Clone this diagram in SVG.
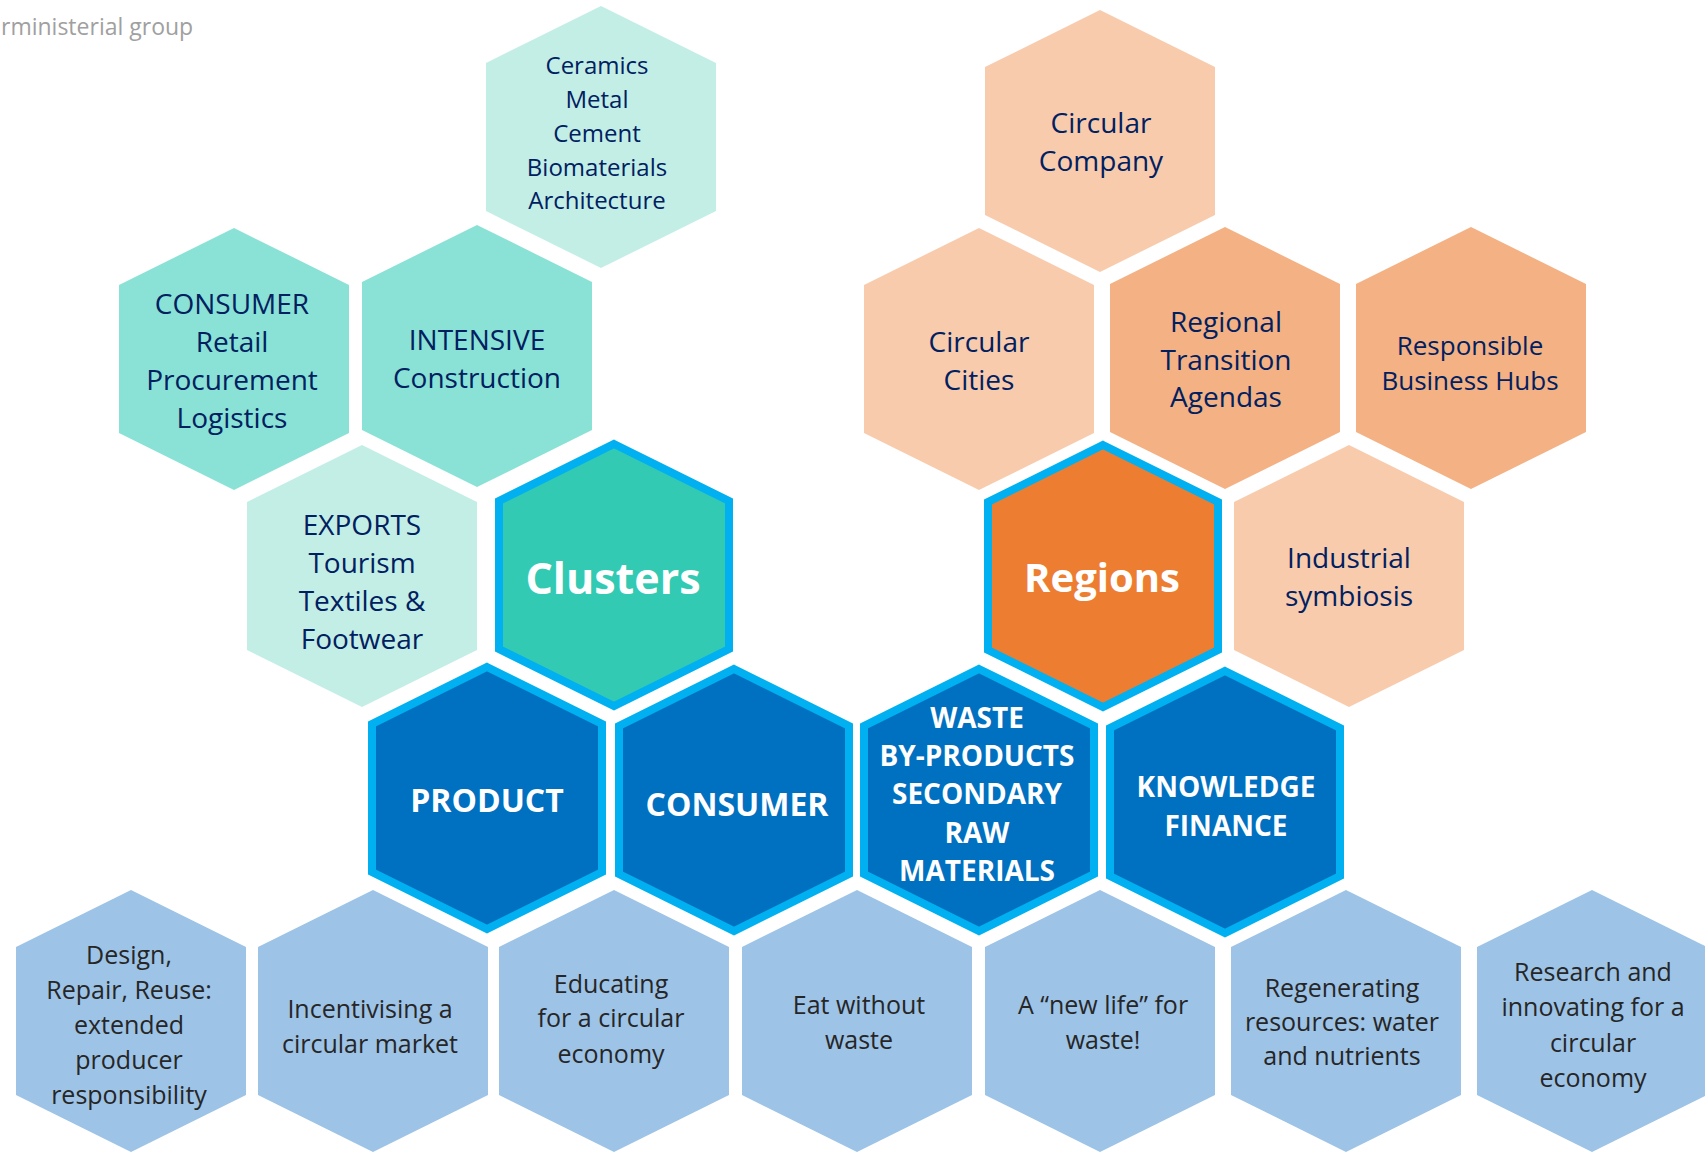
<svg xmlns="http://www.w3.org/2000/svg" width="1705" height="1152" viewBox="0 0 1705 1152">
<defs>
<path id="hex" d="M0,-131 L115,-74 L115,74 L0,131 L-115,74 L-115,-74 Z"/>
<style>
.mintL{fill:#C3EEE6}
.mint{fill:#89E2D5}
.clu{fill:#33CAB3;stroke:#00B0F0;stroke-width:8}
.peachL{fill:#F8CBAD}
.peachM{fill:#F4B183}
.reg{fill:#ED7D31;stroke:#00B0F0;stroke-width:8}
.blue{fill:#0070C0;stroke:#00B0F0;stroke-width:8}
.sky{fill:#9DC3E6}
text{font-family:"Open Sans","Noto Sans",sans-serif;text-anchor:middle}
.nv{fill:#002060}
.dk{fill:#262626;font-size:25px}
.wb{fill:#FFFFFF;font-weight:700}
.s24{font-size:24px}
.s26{font-size:26px}
.s28{font-size:28px}
.s32{font-size:32px}
.s40{font-size:40px}
.s43{font-size:43px}
.ttl{fill:#A0A0A0;font-size:23px;text-anchor:start}
</style>
</defs>
<rect width="1705" height="1152" fill="#FFFFFF"/>
<text class="ttl" x="1" y="35">rministerial group</text>

<g id="ceramics"><use href="#hex" x="601" y="137" class="mintL"/>
<text class="nv s24"><tspan x="597" y="74">Ceramics</tspan><tspan x="597" y="108">Metal</tspan><tspan x="597" y="142">Cement</tspan><tspan x="597" y="176">Biomaterials</tspan><tspan x="597" y="209">Architecture</tspan></text></g>

<g id="consumer-retail"><use href="#hex" x="234" y="359" class="mint"/>
<text class="nv s28"><tspan x="232" y="314">CONSUMER</tspan><tspan x="232" y="352">Retail</tspan><tspan x="232" y="390">Procurement</tspan><tspan x="232" y="428">Logistics</tspan></text></g>

<g id="intensive"><use href="#hex" x="477" y="356" class="mint"/>
<text class="nv s28"><tspan x="477" y="350">INTENSIVE</tspan><tspan x="477" y="388">Construction</tspan></text></g>

<g id="exports"><use href="#hex" x="362" y="576" class="mintL"/>
<text class="nv s28"><tspan x="362" y="535">EXPORTS</tspan><tspan x="362" y="573">Tourism</tspan><tspan x="362" y="611">Textiles &amp;</tspan><tspan x="362" y="649">Footwear</tspan></text></g>

<g id="clusters"><use href="#hex" x="614" y="575" class="clu"/>
<text class="wb s43" x="613" y="594">Clusters</text></g>

<g id="circular-company"><use href="#hex" x="1100" y="141" class="peachL"/>
<text class="nv s28"><tspan x="1101" y="133">Circular</tspan><tspan x="1101" y="171">Company</tspan></text></g>

<g id="circular-cities"><use href="#hex" x="979" y="359" class="peachL"/>
<text class="nv s28"><tspan x="979" y="352">Circular</tspan><tspan x="979" y="390">Cities</tspan></text></g>

<g id="regional-transition"><use href="#hex" x="1225" y="358" class="peachM"/>
<text class="nv s28"><tspan x="1226" y="332">Regional</tspan><tspan x="1226" y="370">Transition</tspan><tspan x="1226" y="407">Agendas</tspan></text></g>

<g id="responsible-hubs"><use href="#hex" x="1471" y="358" class="peachM"/>
<text class="nv s26"><tspan x="1470" y="355">Responsible</tspan><tspan x="1470" y="390">Business Hubs</tspan></text></g>

<g id="regions"><use href="#hex" x="1103" y="576" class="reg"/>
<text class="wb s40" x="1102" y="592">Regions</text></g>

<g id="industrial-symbiosis"><use href="#hex" x="1349" y="576" class="peachL"/>
<text class="nv s28"><tspan x="1349" y="568">Industrial</tspan><tspan x="1349" y="606">symbiosis</tspan></text></g>

<g id="product"><use href="#hex" x="487" y="798" class="blue"/>
<text class="wb s32" x="487" y="812">PRODUCT</text></g>

<g id="consumer"><use href="#hex" x="734" y="800" class="blue"/>
<text class="wb s32" x="737" y="816">CONSUMER</text></g>

<g id="waste"><use href="#hex" x="979" y="800" class="blue"/>
<text class="wb s28"><tspan x="977" y="728">WASTE</tspan><tspan x="977" y="766">BY-PRODUCTS</tspan><tspan x="977" y="804">SECONDARY</tspan><tspan x="977" y="843">RAW</tspan><tspan x="977" y="881">MATERIALS</tspan></text></g>

<g id="knowledge"><use href="#hex" x="1225" y="802" class="blue"/>
<text class="wb s28"><tspan x="1226" y="797">KNOWLEDGE</tspan><tspan x="1226" y="836">FINANCE</tspan></text></g>

<g id="design"><use href="#hex" x="131" y="1021" class="sky"/>
<text class="dk"><tspan x="129" y="964">Design,</tspan><tspan x="129" y="999">Repair, Reuse:</tspan><tspan x="129" y="1034">extended</tspan><tspan x="129" y="1069">producer</tspan><tspan x="129" y="1104">responsibility</tspan></text></g>

<g id="incentivising"><use href="#hex" x="373" y="1021" class="sky"/>
<text class="dk"><tspan x="370" y="1018">Incentivising a</tspan><tspan x="370" y="1053">circular market</tspan></text></g>

<g id="educating"><use href="#hex" x="614" y="1021" class="sky"/>
<text class="dk"><tspan x="611" y="993">Educating</tspan><tspan x="611" y="1027">for a circular</tspan><tspan x="611" y="1063">economy</tspan></text></g>

<g id="eat-without-waste"><use href="#hex" x="857" y="1021" class="sky"/>
<text class="dk"><tspan x="859" y="1014">Eat without</tspan><tspan x="859" y="1049">waste</tspan></text></g>

<g id="new-life"><use href="#hex" x="1100" y="1021" class="sky"/>
<text class="dk"><tspan x="1103" y="1014">A “new life” for</tspan><tspan x="1103" y="1049">waste!</tspan></text></g>

<g id="regenerating"><use href="#hex" x="1346" y="1021" class="sky"/>
<text class="dk"><tspan x="1342" y="997">Regenerating</tspan><tspan x="1342" y="1031">resources: water</tspan><tspan x="1342" y="1065">and nutrients</tspan></text></g>

<g id="research"><use href="#hex" x="1592" y="1021" class="sky"/>
<text class="dk"><tspan x="1593" y="981">Research and</tspan><tspan x="1593" y="1016">innovating for a</tspan><tspan x="1593" y="1052">circular</tspan><tspan x="1593" y="1087">economy</tspan></text></g>
</svg>
